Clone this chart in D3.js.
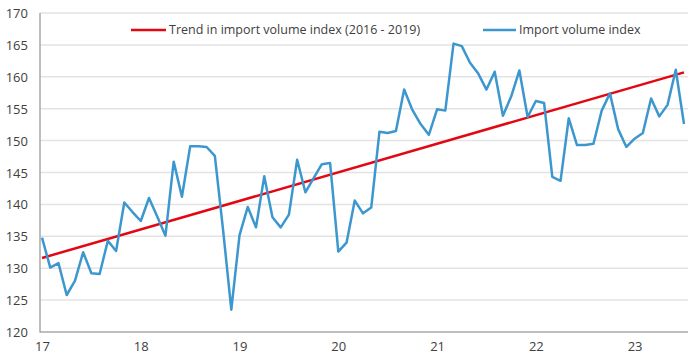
<!DOCTYPE html>
<html><head><meta charset="utf-8">
<script src="https://cdn.jsdelivr.net/npm/d3@7"></script>
<style>
html,body{margin:0;padding:0;background:#fff;}
svg{display:block;font-family:"Open Sans",sans-serif;}
</style></head>
<body>
<svg id="chart" width="700" height="360"></svg>
<script>
// Monthly import volume index, Jan 2017 .. Jul 2023
const importIndex = [
134.8,130.1,130.8,125.8,128.0,132.5,129.2,129.1,134.3,132.7,140.3,138.8,
137.4,141.0,138.1,135.1,146.7,141.2,149.1,149.1,149.0,147.6,136.0,123.5,
135.2,139.6,136.4,144.4,138.0,136.4,138.4,147.0,141.9,144.1,146.3,146.5,
132.6,134.0,140.6,138.6,139.5,151.4,151.2,151.5,158.0,154.8,152.6,150.9,
154.9,154.7,165.2,164.8,162.2,160.5,158.0,160.8,153.9,156.9,161.0,153.7,
156.2,155.9,144.3,143.7,153.5,149.3,149.3,149.5,154.7,157.4,151.8,149.0,
150.3,151.2,156.6,153.8,155.6,161.1,152.6
];
// Trend line (fitted 2016-2019), values at first and last month
const trendIndex = [0, 78];
const trendValues = [131.6, 160.7];
const yearLabels = ["17","18","19","20","21","22","23"];
const yTicks = [120,125,130,135,140,145,150,155,160,165,170];
const legendLabels = ["Trend in import volume index (2016 - 2019)", "Import volume index"];
const colors = {trend:"#e30613", index:"#3d97cf", grid:"#e3e3e3", axis:"#a8a8a8", text:"#404040"};

(function () {
const svg = d3.select("#chart");
const pLeft = 40, pRight = 688, pTop = 13, pBottom = 332;
const x = d3.scaleLinear().domain([0, importIndex.length - 1]).range([42, 684]);
const y = d3.scaleLinear().domain([120, 170]).range([pBottom, pTop]);

// gridlines
svg.append("g").selectAll("line").data(yTicks.filter(d => d > 120)).join("line")
  .attr("x1", pLeft).attr("x2", pRight)
  .attr("y1", d => y(d)).attr("y2", d => y(d))
  .attr("stroke", colors.grid).attr("stroke-width", 1.5);

// y axis labels
const yAxis = d3.axisLeft(y).tickValues(yTicks).tickSize(0).tickPadding(0).tickFormat(d3.format("d"));
const gy = svg.append("g").attr("transform", `translate(${pLeft - 12},0)`).call(yAxis);
gy.select(".domain").remove();
gy.selectAll("text").attr("font-size", 13).attr("fill", colors.text).attr("font-family", "Open Sans").attr("dy", "0.35em");

// x axis labels
const xAxis = d3.axisBottom(x).tickValues(yearLabels.map((d, i) => i * 12)).tickSize(0).tickPadding(0)
  .tickFormat((d, i) => yearLabels[i]);
const gx = svg.append("g").attr("transform", `translate(0,${pBottom + 10})`).call(xAxis);
gx.select(".domain").remove();
gx.selectAll("text").attr("font-size", 13).attr("fill", colors.text).attr("font-family", "Open Sans").attr("dy", "0.71em");

// axis lines
svg.append("line").attr("x1", pLeft).attr("x2", pLeft).attr("y1", pTop).attr("y2", pBottom + 0.5)
  .attr("stroke", colors.axis).attr("stroke-width", 1.5);
svg.append("line").attr("x1", pLeft).attr("x2", pRight).attr("y1", pBottom).attr("y2", pBottom)
  .attr("stroke", colors.axis).attr("stroke-width", 1.5);

// trend line
svg.append("path")
  .datum(trendIndex.map((d, i) => [d, trendValues[i]]))
  .attr("fill", "none").attr("stroke", colors.trend).attr("stroke-width", 2.5)
  .attr("d", d3.line().x(d => x(d[0])).y(d => y(d[1])));

// index line
svg.append("path")
  .datum(importIndex)
  .attr("fill", "none").attr("stroke", colors.index).attr("stroke-width", 2.5)
  .attr("stroke-linejoin", "round")
  .attr("d", d3.line().x((d, i) => x(i)).y(d => y(d)));

// legend
const legend = [
  {label: legendLabels[0], color: colors.trend, x1: 131, x2: 166, tx: 169},
  {label: legendLabels[1], color: colors.index, x1: 483, x2: 516, tx: 519}
];
const lg = svg.append("g");
legend.forEach(l => {
  lg.append("line").attr("x1", l.x1).attr("x2", l.x2).attr("y1", 30).attr("y2", 30)
    .attr("stroke", l.color).attr("stroke-width", 2.5);
  lg.append("text").attr("x", l.tx).attr("y", 30).attr("dy", "0.35em")
    .attr("font-size", 12.5).attr("fill", colors.text).text(l.label);
});
})();
</script>
</body></html>
